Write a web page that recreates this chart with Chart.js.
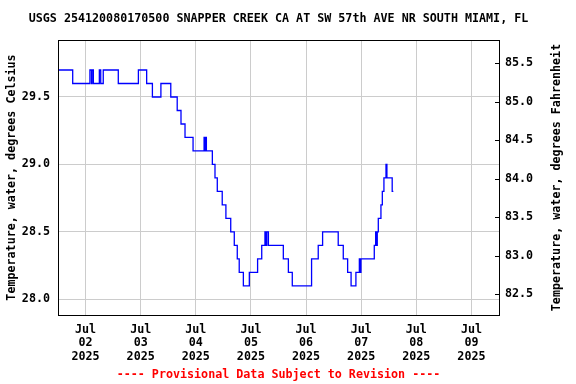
<!DOCTYPE html>
<html>
<head>
<meta charset="utf-8">
<script src="https://cdn.jsdelivr.net/npm/chart.js@4/dist/chart.umd.min.js"></script>
<style>
html,body{margin:0;padding:0;background:#fff;}
#c{display:block;}
</style>
</head>
<body>
<canvas id="c" width="576" height="384"></canvas>
<script>
// ---- data (hours since Jul 01 2025 00:00, water temperature in deg C) ----
const titleText = "USGS 254120080170500 SNAPPER CREEK CA AT SW 57th AVE NR SOUTH MIAMI, FL";
const leftTitle = "Temperature, water, degrees Celsius";
const rightTitle = "Temperature, water, degrees Fahrenheit";
const footerText = "---- Provisional Data Subject to Revision ----";
const dayTickHours = [24, 48, 72, 96, 120, 144, 168, 192];
const dayTickLabels = [["Jul","02","2025"],["Jul","03","2025"],["Jul","04","2025"],["Jul","05","2025"],["Jul","06","2025"],["Jul","07","2025"],["Jul","08","2025"],["Jul","09","2025"]];
const celsiusTicks = [28.0, 28.5, 29.0, 29.5];
const fahrenheitTicks = [82.5, 83.0, 83.5, 84.0, 84.5, 85.0, 85.5];
const hours = [12.0, 18.4, 25.9, 26.6, 26.8, 27.4, 30.0, 30.6, 31.7, 38.25, 47.0, 50.6, 53.1, 56.8, 61.1, 63.9, 65.55, 67.3, 70.8,
  75.6, 76.0, 76.3, 76.6, 79.2, 80.35, 81.35, 83.5, 85.1, 87.2, 88.75, 90.05, 90.9, 92.7, 95.3, 98.9, 100.7,
  102.1, 102.6, 102.9, 103.6, 110.1, 112.3, 114.0, 122.4, 125.3, 127.2, 134.0, 136.2, 138.1, 139.6, 141.7,
  143.2, 143.5, 143.9, 149.7, 150.3, 150.7, 151.0, 151.45, 152.6, 153.2, 153.9, 154.8, 155.2, 157.5, 158.0];
const tempC = [29.7, 29.6, 29.7, 29.6, 29.7, 29.6, 29.7, 29.6, 29.7, 29.6, 29.7, 29.6, 29.5, 29.6, 29.5, 29.4, 29.3, 29.2, 29.1,
  29.2, 29.1, 29.2, 29.1, 29.0, 28.9, 28.8, 28.7, 28.6, 28.5, 28.4, 28.3, 28.2, 28.1, 28.2, 28.3, 28.4,
  28.5, 28.4, 28.5, 28.4, 28.3, 28.2, 28.1, 28.3, 28.4, 28.5, 28.4, 28.3, 28.2, 28.1, 28.2,
  28.3, 28.2, 28.3, 28.4, 28.5, 28.4, 28.5, 28.6, 28.7, 28.8, 28.9, 29.0, 28.9, 28.8, 28.8];

const FONT = '"DejaVu Sans Mono", "Liberation Mono", monospace';
const FS = 11.7;

const framePlugin = {
  id: 'frame',
  afterDraw(chart) {
    const ctx = chart.ctx;
    const a = chart.chartArea;
    ctx.save();
    // inward ticks on Fahrenheit axis
    const y2 = chart.scales.y2;
    ctx.strokeStyle = '#000';
    ctx.lineWidth = 1;
    y2.ticks.forEach(t => {
      const y = Math.round(y2.getPixelForValue(t.value)) + 0.5;
      ctx.beginPath();
      ctx.moveTo(a.right - 4, y);
      ctx.lineTo(a.right, y);
      ctx.stroke();
    });
    // frame
    ctx.strokeRect(Math.round(a.left) + 0.5, Math.round(a.top) + 0.5, Math.round(a.right - a.left), Math.round(a.bottom - a.top));
    // title
    ctx.fillStyle = '#000';
    ctx.font = 'bold ' + FS + 'px ' + FONT;
    ctx.textAlign = 'center';
    ctx.textBaseline = 'middle';
    const cx = (a.left + a.right) / 2;
    ctx.fillText(titleText, cx, 19);
    // footer
    ctx.fillStyle = '#ff0000';
    ctx.fillText(footerText, cx, 375);
    // axis titles (both read bottom-to-top)
    ctx.fillStyle = '#000';
    const cy = (a.top + a.bottom) / 2;
    ctx.save();
    ctx.translate(12, cy);
    ctx.rotate(-Math.PI / 2);
    ctx.fillText(leftTitle, 0, 0);
    ctx.restore();
    ctx.save();
    ctx.translate(557, cy);
    ctx.rotate(-Math.PI / 2);
    ctx.fillText(rightTitle, 0, 0);
    ctx.restore();
    ctx.restore();
  }
};

const tickFont = { family: FONT, size: FS, weight: 'bold', lineHeight: 1.15 };

new Chart(document.getElementById('c'), {
  type: 'line',
  data: {
    datasets: [{
      data: hours.map((h, i) => ({ x: h, y: tempC[i] })),
      borderColor: '#0000ff',
      borderWidth: 1.3,
      pointRadius: 0,
      stepped: 'before',
      fill: false,
      yAxisID: 'y'
    }]
  },
  options: {
    responsive: false,
    devicePixelRatio: 1,
    animation: false,
    layout: { padding: { top: 40, left: 0, right: 0, bottom: 0 } },
    plugins: { legend: { display: false }, title: { display: false }, tooltip: { enabled: false } },
    scales: {
      x: {
        type: 'linear',
        position: 'bottom',
        min: 12,
        max: 204,
        afterBuildTicks: s => { s.ticks = dayTickHours.map(v => ({ value: v })); },
        afterFit: s => { s.height = 69; },
        ticks: {
          autoSkip: false,
          maxRotation: 0,
          padding: 8,
          color: '#000',
          font: tickFont,
          callback: (v) => { const i = dayTickHours.indexOf(v); return i >= 0 ? dayTickLabels[i] : ''; }
        },
        grid: { color: '#cccccc', lineWidth: 1, drawTicks: false },
        border: { display: false }
      },
      y: {
        position: 'left',
        min: 27.884,
        max: 29.9225,
        afterBuildTicks: s => { s.ticks = celsiusTicks.map(v => ({ value: v })); },
        afterFit: s => { s.width = 58; },
        ticks: { padding: 8, color: '#000', font: tickFont, callback: v => Number(v).toFixed(1) },
        grid: { color: '#cccccc', lineWidth: 1, drawTicks: false },
        border: { display: false }
      },
      y2: {
        position: 'right',
        min: 82.23,
        max: 85.80,
        afterBuildTicks: s => { s.ticks = fahrenheitTicks.map(v => ({ value: v })); },
        afterFit: s => { s.width = 77; },
        ticks: { padding: 6, color: '#000', font: tickFont, callback: v => Number(v).toFixed(1) },
        grid: { display: false, drawTicks: false },
        border: { display: false }
      }
    }
  },
  plugins: [framePlugin]
});
</script>
</body>
</html>
